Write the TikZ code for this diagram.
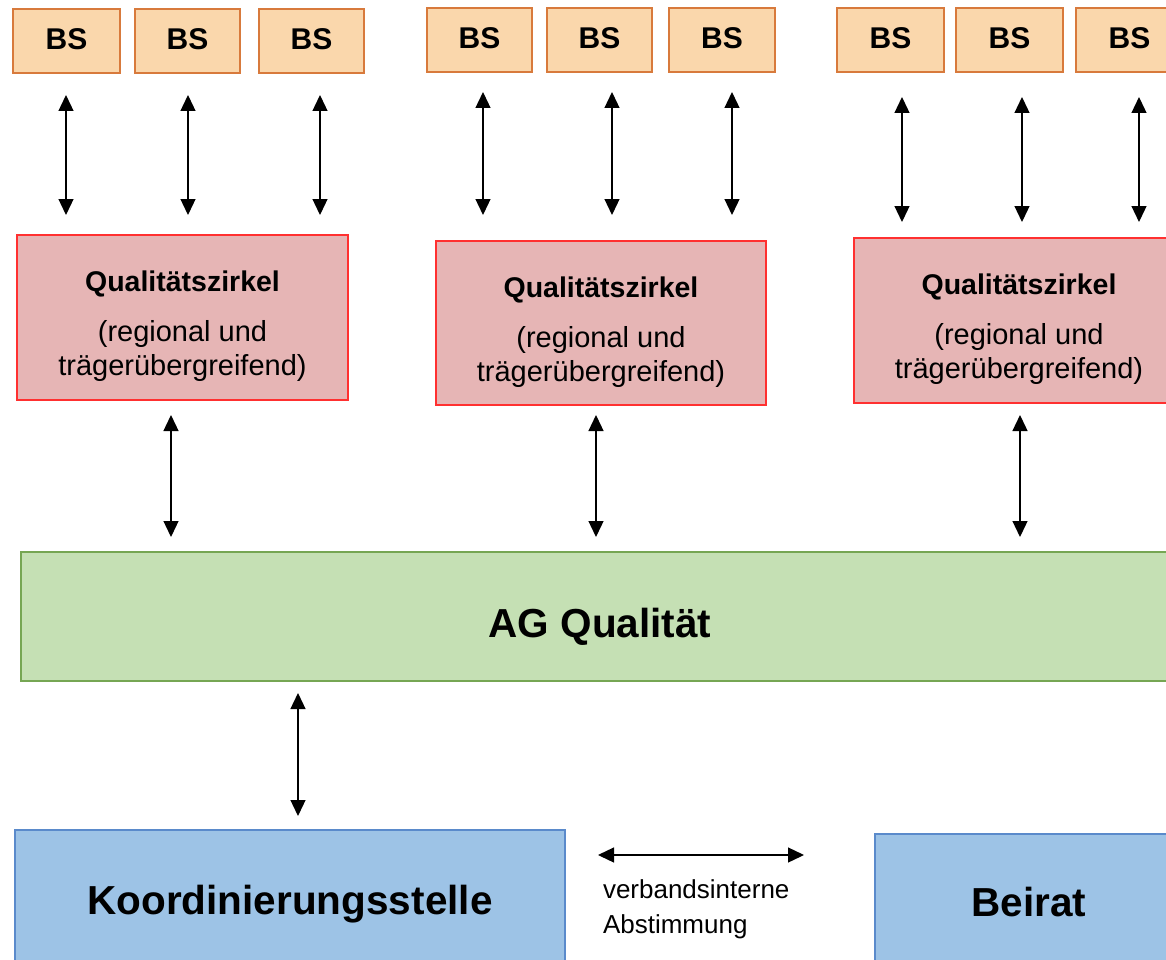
\documentclass[tikz,border=0pt]{standalone}
\usepackage{fontspec}
\setmainfont{Liberation Sans}
\usetikzlibrary{arrows.meta,calc}
\definecolor{bsfill}{HTML}{FAD7AC}
\definecolor{bsline}{HTML}{D87A3C}
\definecolor{qzfill}{HTML}{E6B5B5}
\definecolor{qzline}{HTML}{FF3030}
\definecolor{agfill}{HTML}{C5E0B4}
\definecolor{agline}{HTML}{76A653}
\definecolor{blfill}{HTML}{9DC3E6}
\definecolor{blline}{HTML}{5A8ACB}
\tikzset{
  box/.style={draw, line width=1.5pt, inner sep=0pt, outer sep=0pt, anchor=north west},
  bsbox/.style={box, fill=bsfill, draw=bsline, minimum height=64pt},
  qzbox/.style={box, fill=qzfill, draw=qzline, minimum width=330pt, minimum height=165pt},
  agbox/.style={box, fill=agfill, draw=agline},
  blbox/.style={box, fill=blfill, draw=blline},
  txt/.style={inner sep=0pt, outer sep=0pt, anchor=base},
  bstext/.style={txt, font=\fontsize{30}{36}\selectfont\bfseries},
  qztitle/.style={txt, font=\fontsize{28.5}{34}\selectfont\bfseries},
  qztext/.style={txt, font=\fontsize{29}{34}\selectfont},
  bigtext/.style={txt, font=\fontsize{40.5}{48}\selectfont\bfseries},
  smalltext/.style={txt, anchor=base west, font=\fontsize{26}{31}\selectfont},
  biarrow/.style={line width=1.3pt, {Triangle[width=15pt,length=16pt]}-{Triangle[width=15pt,length=16pt]}}
}
\begin{document}
\begin{tikzpicture}[x=1pt,y=-1pt]
\useasboundingbox (0,0) rectangle (1166,960);
\clip (0,0) rectangle (1166,960);
% BS boxes
\node[bsbox, minimum width=107pt] (bs1) at (13,9) {};
\node[bsbox, minimum width=105pt] (bs2) at (135,9) {};
\node[bsbox, minimum width=105pt] (bs3) at (259,9) {};
\node[bsbox, minimum width=105pt] (bs4) at (427,8) {};
\node[bsbox, minimum width=105pt] (bs5) at (547,8) {};
\node[bsbox, minimum width=106pt] (bs6) at (669,8) {};
\node[bsbox, minimum width=107pt] (bs7) at (837,8) {};
\node[bsbox, minimum width=107pt] (bs8) at (956,8) {};
\node[bsbox, minimum width=107pt] (bs9) at (1076,8) {};
\foreach \i in {1,...,9}{
  \node[bstext] (bst\i) at ($(bs\i.north)+(0,41)$) {BS};
}
% arrows BS - QZ
\foreach \i/\x/\ya/\yb in {1/66/95/215, 2/188/95/215, 3/320/95/215,
                          4/483/92/215, 5/612/92/215, 6/732/92/215,
                          7/902/97/222, 8/1022/97/222, 9/1139/97/222}{
  \coordinate (at\i) at (\x,\ya);
  \coordinate (ab\i) at (\x,\yb);
  \draw[biarrow] (at\i) -- (ab\i);
}
% QZ boxes
\node[qzbox, minimum width=331pt] (qz1) at (17,235) {};
\node[qzbox, minimum height=164pt] (qz2) at (436,241) {};
\node[qzbox] (qz3) at (854,238) {};
\foreach \i in {1,2,3}{
  \node[qztitle] (qzt\i) at ($(qz\i.north)+(0,56)$) {Qualitätszirkel};
  \node[qztext] (qza\i) at ($(qz\i.north)+(0,106)$) {(regional und};
  \node[qztext] (qzb\i) at ($(qz\i.north)+(0,140)$) {trägerübergreifend)};
}
% arrows QZ - AG
\foreach \i/\x in {1/171, 2/596, 3/1020}{
  \coordinate (qt\i) at (\x,415);
  \coordinate (qb\i) at (\x,537);
  \draw[biarrow] (qt\i) -- (qb\i);
}
% AG
\node[agbox, minimum width=1158pt, minimum height=129pt] (ag) at (21,552) {};
\node[bigtext] (agt) at (600,637) {AG Qualität};
% arrow AG - K
\coordinate (kt) at (298,693);
\coordinate (kb) at (298,816);
\draw[biarrow] (kt) -- (kb);
% bottom boxes
\node[blbox, minimum width=550pt, minimum height=150pt] (ks) at (15,830) {};
\node[bigtext] (kst) at (290,914) {Koordinierungsstelle};
\node[blbox, minimum width=308pt, minimum height=150pt] (br) at (875,834) {};
\node[bigtext] (brt) at (1029,916) {Beirat};
% horizontal arrow and label
\coordinate (hl) at (598,855);
\coordinate (hr) at (804,855);
\draw[biarrow] (hl) -- (hr);
\node[smalltext] (l1) at (603,898) {verbandsinterne};
\node[smalltext] (l2) at (603,933) {Abstimmung};
\end{tikzpicture}
\end{document}
